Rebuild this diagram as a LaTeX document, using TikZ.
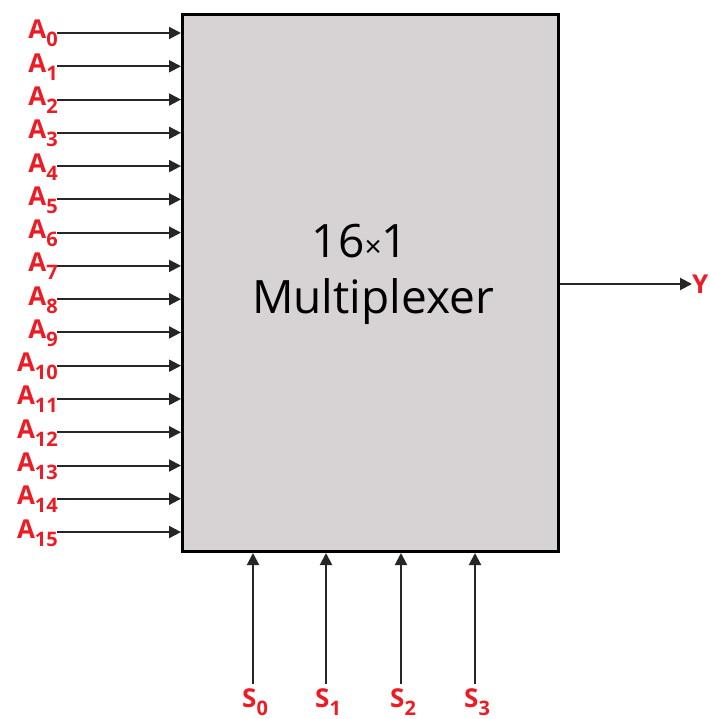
\documentclass[tikz,border=0pt]{standalone}
\usepackage{fontspec}
\setmainfont{Open Sans}
\usetikzlibrary{arrows.meta}
\definecolor{boxfill}{RGB}{215,211,212}
\definecolor{lblred}{RGB}{237,28,36}
\tikzset{
  wire/.style={line width=2pt, draw=black!85, -{Triangle[length=12pt,width=12pt]}},
  lbl/.style={text=lblred, inner sep=0pt, font=\fontsize{26}{26}\selectfont\bfseries},
  mux/.style={draw=black, line width=3pt, fill=boxfill, inner sep=0pt},
  title/.style={inner sep=0pt, font=\fontsize{46}{46}\selectfont}
}
\newcommand{\subx}[1]{\raisebox{-8pt}{\fontsize{20}{20}\selectfont #1}}
\begin{document}
\begin{tikzpicture}[x=1pt,y=-1pt]
\useasboundingbox (0,0) rectangle (709,719);
\node[mux, minimum width=376pt, minimum height=537pt, anchor=north west] (m) at (181,13) {};
\node[title, anchor=base] (t1) at (360,257) {16{\fontsize{30}{30}\selectfont×}1};
\node[title, anchor=base] (t2) at (373,313) {Multiplexer};
\foreach \i in {0,...,15} {
  \pgfmathsetmacro{\yy}{33+33.27*\i}
  \coordinate (a\i) at (57,\yy);
  \node[lbl, anchor=base east] (la\i) at (58,\yy+6) {A\subx{\i}};
  \draw[wire] (a\i) -- (a\i -| m.west);
}
\node[lbl, anchor=west] (y) at (692,284) {Y};
\draw[wire] (m.east |- y) -- (y.west);
\foreach \i/\x in {0/253,1/326,2/401,3/475} {
  \coordinate (s\i) at (\x,684);
  \node[lbl, anchor=base west] (ls\i) at (\x-11,707) {S\subx{\i}};
  \draw[wire] (s\i) -- (s\i |- m.south);
}
\end{tikzpicture}
\end{document}
